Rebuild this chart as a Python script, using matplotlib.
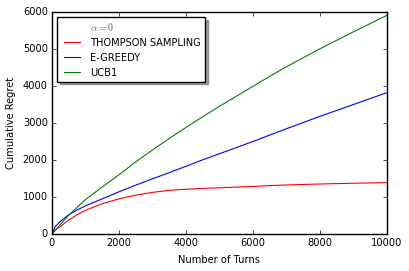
import matplotlib
matplotlib.use("Agg")
import matplotlib.pyplot as plt

turns = [0, 100, 250, 500, 750, 1000, 1500, 2000, 2500, 3000, 3500, 4000, 4500, 5000,
         6000, 6500, 7000, 8000, 9000, 10000]
thompson = [0, 110, 200, 380, 520, 640, 820, 950, 1050, 1125, 1180, 1210, 1232, 1250,
            1285, 1308, 1325, 1352, 1372, 1388]
egreedy = [0, 200, 340, 520, 650, 760, 950, 1140, 1320, 1490, 1660, 1830, 2005, 2170,
           2500, 2675, 2845, 3180, 3500, 3820]
ucb1 = [0, 100, 255, 510, 720, 930, 1270, 1600, 1950, 2270, 2580, 2880, 3170, 3450,
        3990, 4260, 4520, 5005, 5465, 5910]

FS = 7.1

plt.style.use("classic")
plt.rcParams["font.size"] = FS
plt.rcParams["mathtext.fontset"] = "cm"

fig = plt.figure(figsize=(4.09, 2.71), dpi=100, facecolor="white")
ax = fig.add_axes([0.127, 0.1365, 0.819, 0.8192])

# invisible entry so the alpha label sits in the legend like a row
ax.plot([], [], " ", label=r"$\alpha=0$")
ax.plot(turns, thompson, color="red", lw=0.8, label="THOMPSON SAMPLING")
ax.plot(turns, egreedy, color="blue", lw=0.8, label="E-GREEDY")
ax.plot(turns, ucb1, color="green", lw=0.8, label="UCB1")

ax.set_xlim(0, 10000)
ax.set_ylim(0, 6000)
ax.set_xticks(range(0, 10001, 2000))
ax.set_yticks(range(0, 6001, 1000))
ax.tick_params(direction="in", top=True, right=True, length=3, labelsize=FS, pad=3)
ax.set_xlabel("Number of Turns", fontsize=FS)
ax.set_ylabel("Cumulative Regret", fontsize=FS)

leg = ax.legend(loc="upper left", shadow=True, fancybox=False, fontsize=FS,
                handlelength=2.2, borderaxespad=0.5, labelspacing=0.5)
leg.get_texts()[0].set_color("0.35")

fig.savefig("out.png", dpi=100, facecolor="white")
